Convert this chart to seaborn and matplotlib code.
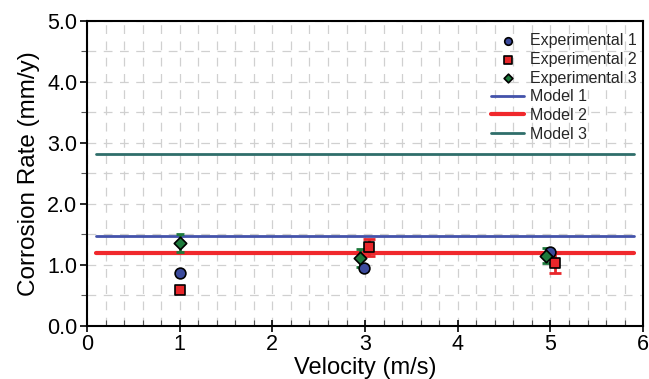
import matplotlib
matplotlib.use("Agg")
import matplotlib.pyplot as plt
import seaborn as sns
import pandas as pd
import numpy as np
from matplotlib.ticker import MultipleLocator, FormatStrFormatter

# ---- data ----
exp_names = ["Experimental 1", "Experimental 2", "Experimental 3"]
exp1_x = [1.0, 2.99, 4.99]
exp1_y = [0.87, 0.95, 1.21]
exp1_err = [0.0, 0.0, 0.0]
exp2_x = [1.0, 3.04, 5.05]
exp2_y = [0.59, 1.29, 1.03]
exp2_err = [0.0, 0.14, 0.16]
exp3_x = [1.0, 2.94, 4.95]
exp3_y = [1.36, 1.11, 1.15]
exp3_err = [0.15, 0.15, 0.12]

model_names = ["Model 1", "Model 2", "Model 3"]
model_x = [0.1, 5.9]
model_values = [1.48, 1.20, 2.82]

# ---- styles ----
exp_colors = ["#3b4a9c", "#e8262a", "#1d7a3c"]
exp_markers = ["o", "s", "D"]
exp_sizes = [60, 55, 40]
exp_caps = [0, 4, 3]
model_colors = ["#4352aa", "#f0282c", "#2f6e6a"]
model_widths = [2.0, 3.0, 2.0]

sns.set_theme(style="white")
plt.rcParams["font.family"] = ["Liberation Sans", "DejaVu Sans"]

fig = plt.figure(figsize=(6.49, 3.79), dpi=100)
ax = fig.add_axes([0.134, 0.140, 0.857, 0.805])

# model lines
mdf = pd.DataFrame({
    "x": model_x * 3,
    "y": [v for v in model_values for _ in model_x],
    "series": [n for n in model_names for _ in model_x],
})
for name, col, lw in zip(model_names, model_colors, model_widths):
    sub = mdf[mdf.series == name]
    sns.lineplot(data=sub, x="x", y="y", ax=ax, color=col, lw=lw, label=name, zorder=2)

# experimental points
xs = [exp1_x, exp2_x, exp3_x]
ys = [exp1_y, exp2_y, exp3_y]
errs = [exp1_err, exp2_err, exp3_err]
for name, x, y, e, col, mk, sz, cp in zip(exp_names, xs, ys, errs, exp_colors,
                                          exp_markers, exp_sizes, exp_caps):
    e = np.asarray(e)
    m = e > 0
    if m.any():
        ax.errorbar(np.asarray(x)[m], np.asarray(y)[m], yerr=e[m], fmt="none",
                    ecolor=col, elinewidth=2, capsize=cp, capthick=2, zorder=3)
    edf = pd.DataFrame({"x": x, "y": y})
    sns.scatterplot(data=edf, x="x", y="y", ax=ax, color=col, marker=mk, s=sz,
                    edgecolor="black", linewidth=1.2, label=name, zorder=4)

ax.set_xlim(0, 6)
ax.set_ylim(0, 5)
ax.xaxis.set_major_locator(MultipleLocator(1))
ax.xaxis.set_minor_locator(MultipleLocator(0.2))
ax.yaxis.set_major_locator(MultipleLocator(1))
ax.yaxis.set_minor_locator(MultipleLocator(0.5))
ax.yaxis.set_major_formatter(FormatStrFormatter("%.1f"))

ax.grid(which="both", color="#d0d0d0", linestyle=(0, (7, 6)), linewidth=0.9, zorder=0)
ax.set_axisbelow(True)

for sp in ax.spines.values():
    sp.set_color("black")
    sp.set_linewidth(1.5)

ax.tick_params(axis="x", which="major", direction="inout", length=8, width=1.2, labelsize=15.5, colors="black", pad=2)
ax.tick_params(axis="x", which="minor", direction="in", length=4, width=0.8, colors="#555555")
ax.tick_params(axis="y", which="major", direction="out", length=5, width=1.2, labelsize=15.5, colors="black", pad=2)
ax.tick_params(axis="y", which="minor", direction="out", length=4, width=0.8, colors="#555555")
ax.tick_params(bottom=True, left=True, which="both")

ax.set_xlabel("Velocity (m/s)", fontsize=17, labelpad=1, color="black")
ax.set_ylabel("Corrosion Rate (mm/y)", fontsize=17.5, labelpad=5, color="black")

h, l = ax.get_legend_handles_labels()
order = [l.index(n) for n in exp_names + model_names]
ax.legend([h[i] for i in order], [l[i] for i in order], loc="upper right",
          frameon=False, fontsize=11.5, labelspacing=0.23, handlelength=2.1,
          handletextpad=0.35, borderaxespad=0.0, markerscale=0.7,
          bbox_to_anchor=(1.0, 0.98))

fig.savefig("out.png", dpi=100)
